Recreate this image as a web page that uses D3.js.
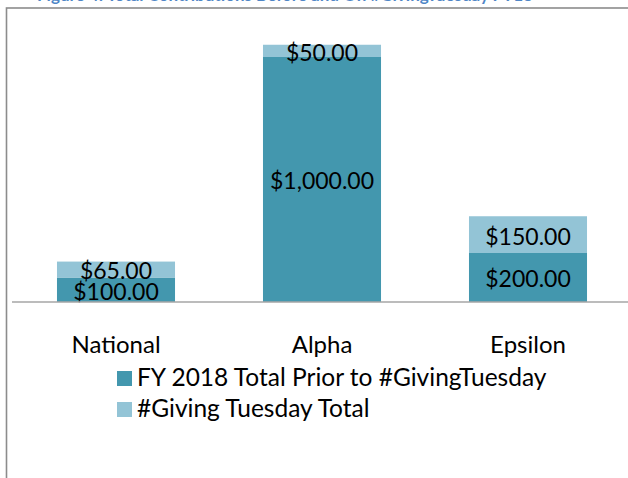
<!DOCTYPE html>
<html>
<head>
<meta charset="utf-8">
<script src="https://cdnjs.cloudflare.com/ajax/libs/d3/7.8.5/d3.min.js"></script>
<style>
  html, body { margin: 0; padding: 0; background: #fff; }
  svg { display: block; }
  text { font-family: Lato, "Open Sans", sans-serif; }
</style>
</head>
<body>
<div id="chart"></div>
<script>
// chart data
var categories = ["National", "Alpha", "Epsilon"];
var priorTotals = [100, 1000, 200];
var givingTuesdayTotals = [65, 50, 150];
var seriesNames = ["FY 2018 Total Prior to #GivingTuesday", "#Giving Tuesday Total"];
var seriesColors = ["#4397ae", "#93c4d6"];
var titleText = "Figure 4: Total Contributions Before and On #GivingTuesday FY18";

var totalWidth = 628, totalHeight = 478;

var svg = d3.select("#chart").append("svg")
    .attr("width", totalWidth)
    .attr("height", totalHeight);

// clipped title at the very top
svg.append("text")
    .attr("x", 37)
    .attr("y", 0.5)
    .attr("fill", "#4f86c6")
    .attr("font-weight", "bold")
    .attr("font-size", 17)
    .text(titleText);

// chart frame
svg.append("rect")
    .attr("x", 6.5)
    .attr("y", 8)
    .attr("width", 700)
    .attr("height", 600)
    .attr("fill", "none")
    .attr("stroke", "#8c8c8c")
    .attr("stroke-width", 1.6);

var rows = categories.map(function(c, i) {
    return { cat: c, prior: priorTotals[i], gt: givingTuesdayTotals[i] };
});
var stacked = d3.stack().keys(["prior", "gt"])(rows);

var xScale = d3.scaleBand()
    .domain(categories)
    .range([13, 631])
    .paddingInner(0.427)
    .paddingOuter(0.2135);

var yScale = d3.scaleLinear()
    .domain([0, 1200])
    .range([302, 8]);

var fmt = function(v) { return "$" + d3.format(",.2f")(v); };

var layers = svg.selectAll("g.layer")
    .data(stacked)
    .enter().append("g")
    .attr("class", "layer")
    .attr("fill", function(d, i) { return seriesColors[i]; });

layers.selectAll("rect")
    .data(function(d) { return d; })
    .enter().append("rect")
    .attr("x", function(d) { return xScale(d.data.cat); })
    .attr("y", function(d) { return yScale(d[1]); })
    .attr("width", xScale.bandwidth())
    .attr("height", function(d) { return yScale(d[0]) - yScale(d[1]); });

layers.selectAll("text")
    .data(function(d) { return d; })
    .enter().append("text")
    .attr("x", function(d) { return xScale(d.data.cat) + xScale.bandwidth() / 2; })
    .attr("y", function(d) { return (yScale(d[0]) + yScale(d[1])) / 2; })
    .attr("dy", "0.43em")
    .attr("text-anchor", "middle")
    .attr("fill", "#000")
    .attr("font-size", 23)
    .text(function(d) { return fmt(d[1] - d[0]); });

// category axis
var xAxis = d3.axisBottom(xScale).tickSize(0).tickPadding(0);
var xAxisGroup = svg.append("g")
    .attr("transform", "translate(0," + yScale(0) + ")")
    .call(xAxis);
xAxisGroup.select(".domain").remove();
xAxisGroup.selectAll("text")
    .attr("y", 51)
    .attr("dy", 0)
    .attr("fill", "#000")
    .attr("font-size", 24)
    .attr("font-family", "Lato, sans-serif");
svg.append("line")
    .attr("x1", 12).attr("x2", 628)
    .attr("y1", yScale(0)).attr("y2", yScale(0))
    .attr("stroke", "#a6a6a6")
    .attr("stroke-width", 1.3);

// legend
var legend = svg.selectAll("g.legend")
    .data(seriesNames)
    .enter().append("g")
    .attr("class", "legend")
    .attr("transform", function(d, i) { return "translate(117," + (371 + i * 31) + ")"; });
legend.append("rect")
    .attr("width", 15).attr("height", 15)
    .attr("fill", function(d, i) { return seriesColors[i]; });
legend.append("text")
    .attr("x", 20)
    .attr("y", 15)
    .attr("font-size", 24.5)
    .attr("fill", "#000")
    .text(function(d) { return d; });
</script>
</body>
</html>
